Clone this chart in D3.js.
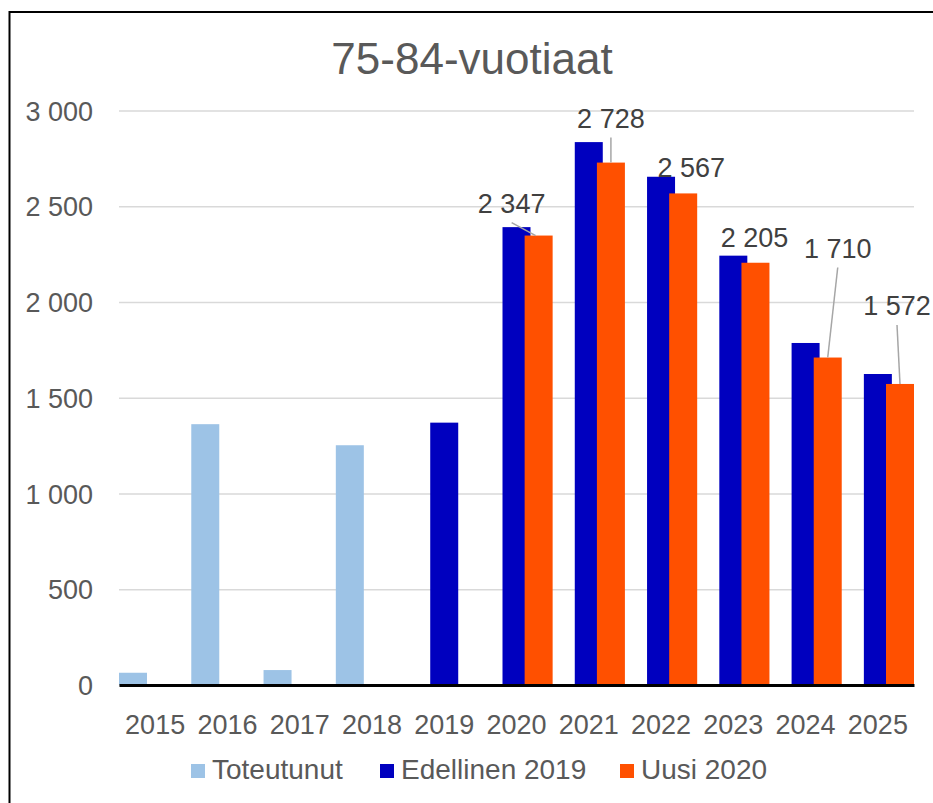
<!DOCTYPE html>
<html>
<head>
<meta charset="utf-8">
<script src="https://cdn.jsdelivr.net/npm/d3@7"></script>
<style>
body{margin:0;background:#fff;}
text{font-family:"Liberation Sans",Arial,sans-serif;fill:#595959;}
</style>
</head>
<body>
<svg class="chart"></svg>
<script>
var years=["2015","2016","2017","2018","2019","2020","2021","2022","2023","2024","2025"];
var seriesNames=["Toteutunut","Edellinen 2019","Uusi 2020"];
var toteutunut=[64,1362,78,1252,null,null,null,null,null,null,null];
var edellinen=[null,null,null,null,1370,2391,2835,2654,2242,1786,1624];
var uusi=[null,null,null,null,null,2347,2728,2567,2205,1710,1572];
var yTicks=[0,500,1000,1500,2000,2500,3000];

// where Excel left the labels of the orange bars (dx,dy from bar top)
var labelNudge=[null,null,null,null,null,[-27,-23],[0,-35],[8,-16],[-1,-16],[10,-100],[-3,-69]];

var colors=d3.scaleOrdinal()
             .domain(seriesNames)
             .range(["#9DC3E6","#0000BF","#FF5000"]);

var screen={width:933,height:803};
var margin={top:110.5,bottom:118,left:119,right:19};
var width=screen.width-margin.left-margin.right;
var height=screen.height-margin.top-margin.bottom;

var svg=d3.select("svg.chart")
          .attr("width",screen.width)
          .attr("height",screen.height);

// frame (only top and left edges are inside the picture)
svg.append("rect")
   .attr("x",9.5)
   .attr("y",12)
   .attr("width",940)
   .attr("height",820)
   .attr("fill","none")
   .attr("stroke","#000")
   .attr("stroke-width",2);

svg.append("text")
   .attr("x",472)
   .attr("y",74)
   .attr("text-anchor","middle")
   .style("font-size","44px")
   .text("75-84-vuotiaat");

var xscale=d3.scaleBand()
             .domain(years)
             .range([0,width])
             .padding(0);
var barW=28;
var xsub=d3.scalePoint()
           .domain(seriesNames)
           .range([0,xscale.bandwidth()-barW]);
var yscale=d3.scaleLinear()
             .domain([0,3000])
             .range([height,0]);

var plot=svg.append("g")
            .attr("transform","translate("+margin.left+","+margin.top+")");

var fmt=function(v){return d3.format(",")(v).replace(/,/g," ");};

var yAxis=d3.axisLeft(yscale)
            .tickValues(yTicks)
            .tickSize(-width)
            .tickFormat(fmt);
var ya=plot.append("g").call(yAxis);
ya.select(".domain").remove();
ya.selectAll(".tick line")
  .attr("stroke","#D9D9D9")
  .attr("stroke-width",1.5);
ya.selectAll(".tick text")
  .attr("x",-26)
  .attr("dy","0.36em")
  .style("font-size","27px")
  .style("fill","#595959");

var table=[toteutunut,edellinen,uusi];
var series=plot.selectAll("g.series")
               .data(seriesNames)
               .enter()
               .append("g")
               .classed("series",true)
               .attr("fill",function(d){return colors(d);});
series.selectAll("rect")
      .data(function(d,i){
        return years.map(function(y,j){return {name:d,year:y,value:table[i][j]};})
                    .filter(function(e){return e.value!=null;});
      })
      .enter()
      .append("rect")
      .attr("x",function(d){return xscale(d.year)+xsub(d.name);})
      .attr("y",function(d){return yscale(d.value);})
      .attr("width",barW)
      .attr("height",function(d){return height-yscale(d.value);});

var xAxis=d3.axisBottom(xscale).tickSize(0);
var xa=plot.append("g")
           .attr("transform","translate(0,"+height+")")
           .call(xAxis);
xa.select(".domain")
  .attr("stroke","#000")
  .attr("stroke-width",3);
xa.selectAll(".tick text")
  .attr("y",30)
  .attr("dy","0.71em")
  .style("font-size","27px")
  .style("fill","#595959");

// data labels of Uusi 2020
var labels=years.map(function(y,j){return {year:y,value:uusi[j],nudge:labelNudge[j]};})
                .filter(function(e){return e.value!=null;});
var lab=plot.append("g");
lab.selectAll("line")
   .data(labels.filter(function(d){return d.nudge[1]<-20;}))
   .enter()
   .append("line")
   .attr("x1",function(d){return xscale(d.year)+xsub("Uusi 2020")+barW/2+d.nudge[0];})
   .attr("y1",function(d){return yscale(d.value)+d.nudge[1]+10;})
   .attr("x2",function(d){return xscale(d.year)+xsub("Uusi 2020")+barW/2-(d.nudge[0]<-15?3:0);})
   .attr("y2",function(d){return yscale(d.value);})
   .attr("stroke","#A6A6A6")
   .attr("stroke-width",1.5);
lab.selectAll("text")
   .data(labels)
   .enter()
   .append("text")
   .attr("x",function(d){return xscale(d.year)+xsub("Uusi 2020")+barW/2+d.nudge[0];})
   .attr("y",function(d){return yscale(d.value)+d.nudge[1];})
   .attr("text-anchor","middle")
   .style("font-size","27px")
   .style("fill","#404040")
   .text(function(d){return fmt(d.value);});

// legend
var legX=[191,380,620];
var legend=svg.append("g")
              .attr("transform","translate(0,764)");
var item=legend.selectAll("g")
               .data(seriesNames)
               .enter()
               .append("g")
               .attr("transform",function(d,i){return "translate("+legX[i]+",0)";});
item.append("rect")
    .attr("width",14)
    .attr("height",14)
    .attr("fill",function(d){return colors(d);});
item.append("text")
    .attr("x",21)
    .attr("y",15)
    .style("font-size","28px")
    .text(function(d){return d;});
</script>
</body>
</html>
